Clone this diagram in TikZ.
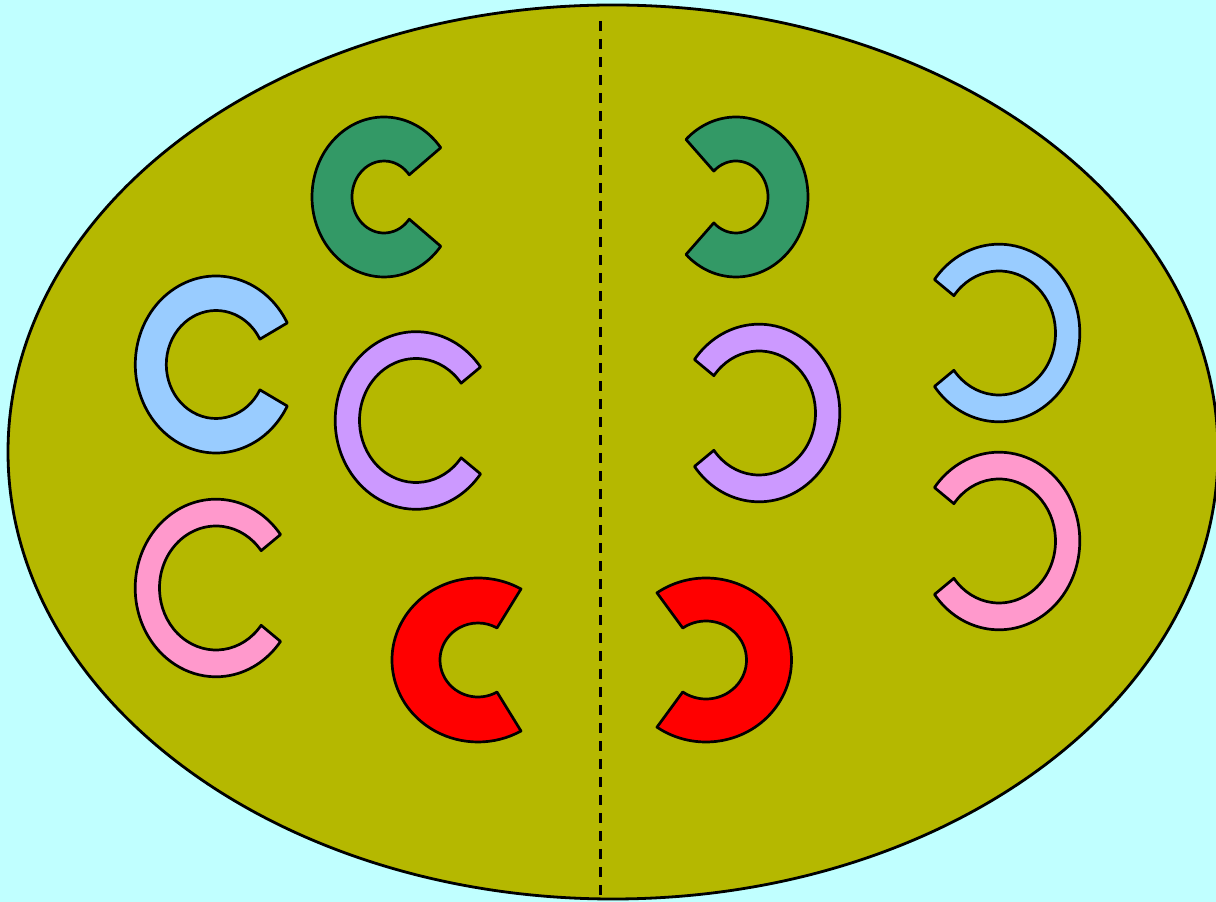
\documentclass[tikz,border=0pt]{standalone}
\usepackage{tikz}
\usetikzlibrary{calc}

\definecolor{skycyan}{RGB}{192,255,255}
\definecolor{olivecell}{RGB}{181,184,0}
\definecolor{chromgreen}{RGB}{51,153,102}
\definecolor{chromblue}{RGB}{153,204,255}
\definecolor{chrompurple}{RGB}{204,153,255}
\definecolor{chrompink}{RGB}{255,153,204}
\definecolor{chromred}{RGB}{255,0,0}

\begin{document}
\begin{tikzpicture}[x=1pt,y=1pt,
		chrom/.style={draw=black, line width=2.7pt, line join=round}]
				\fill[skycyan] (0,0) rectangle (1216,902);
				\useasboundingbox (0,0) rectangle (1216,902);
				\clip (0,0) rectangle (1216,902);
				% cell and equator
				\coordinate (O) at (613,450);
				\coordinate (T) at (600,881);
				\coordinate (U) at (600,0);
				\draw[fill=olivecell, line width=2.8pt] (O) ellipse[x radius=605, y radius=447];
				\draw[line width=3pt, dash pattern=on 10pt off 8pt] (T)--(U);
				% centres of the chromatids
				\coordinate (GL) at (384,705);
				\coordinate (GR) at (736,705);
				\coordinate (BL) at (216,537.5);
				\coordinate (BR) at (999,569);
				\coordinate (PL) at (416,481.5);
				\coordinate (PR) at (759,489);
				\coordinate (KL) at (216,314);
				\coordinate (KR) at (999,361);
				\coordinate (RL) at (478,242);
				\coordinate (RR) at (706,242);
				% left half, open to the right
				\draw[chrom, fill=chromgreen] ($(GL)+(38:72 and 80)$) arc[start angle=38, end angle=322, x radius=72, y radius=80]
					-- ($(GL)+(322:32 and 36)$) arc[start angle=322, end angle=38, x radius=32, y radius=36] -- cycle;
				\draw[chrom, fill=chromblue] ($(BL)+(28:80.7 and 88.5)$) arc[start angle=28, end angle=332, x radius=80.7, y radius=88.5]
					-- ($(BL)+(332:49.7 and 54)$) arc[start angle=332, end angle=28, x radius=49.7, y radius=54] -- cycle;
				\draw[chrom, fill=chrompurple] ($(PL)+(37:80.8 and 88.8)$) arc[start angle=37, end angle=323, x radius=80.8, y radius=88.8]
					-- ($(PL)+(323:56.5 and 62)$) arc[start angle=323, end angle=37, x radius=56.5, y radius=62] -- cycle;
				\draw[chrom, fill=chrompink] ($(KL)+(37:80.8 and 88.8)$) arc[start angle=37, end angle=323, x radius=80.8, y radius=88.8]
					-- ($(KL)+(323:56.5 and 62)$) arc[start angle=323, end angle=37, x radius=56.5, y radius=62] -- cycle;
				\draw[chrom, fill=chromred] ($(RL)+(60:86 and 82)$) arc[start angle=60, end angle=300, x radius=86, y radius=82]
					-- ($(RL)+(300:38 and 37)$) arc[start angle=300, end angle=60, x radius=38, y radius=37] -- cycle;
				% right half, open to the left
				\draw[chrom, fill=chromgreen] ($(GR)+(-134:72 and 80)$) arc[start angle=-134, end angle=134, x radius=72, y radius=80]
					-- ($(GR)+(134:32 and 36)$) arc[start angle=134, end angle=-134, x radius=32, y radius=36] -- cycle;
				\draw[chrom, fill=chromblue] ($(BR)+(-143:80.8 and 88.8)$) arc[start angle=-143, end angle=143, x radius=80.8, y radius=88.8]
					-- ($(BR)+(143:56.5 and 62)$) arc[start angle=143, end angle=-143, x radius=56.5, y radius=62] -- cycle;
				\draw[chrom, fill=chrompurple] ($(PR)+(-143:80.8 and 88.8)$) arc[start angle=-143, end angle=143, x radius=80.8, y radius=88.8]
					-- ($(PR)+(143:56.5 and 62)$) arc[start angle=143, end angle=-143, x radius=56.5, y radius=62] -- cycle;
				\draw[chrom, fill=chrompink] ($(KR)+(-143:80.8 and 88.8)$) arc[start angle=-143, end angle=143, x radius=80.8, y radius=88.8]
					-- ($(KR)+(143:56.5 and 62)$) arc[start angle=143, end angle=-143, x radius=56.5, y radius=62] -- cycle;
				\draw[chrom, fill=chromred] ($(RR)+(-125:85.5 and 82)$) arc[start angle=-125, end angle=125, x radius=85.5, y radius=82]
					-- ($(RR)+(125:40.5 and 39)$) arc[start angle=125, end angle=-125, x radius=40.5, y radius=39] -- cycle;
			\end{tikzpicture}
\end{document}
